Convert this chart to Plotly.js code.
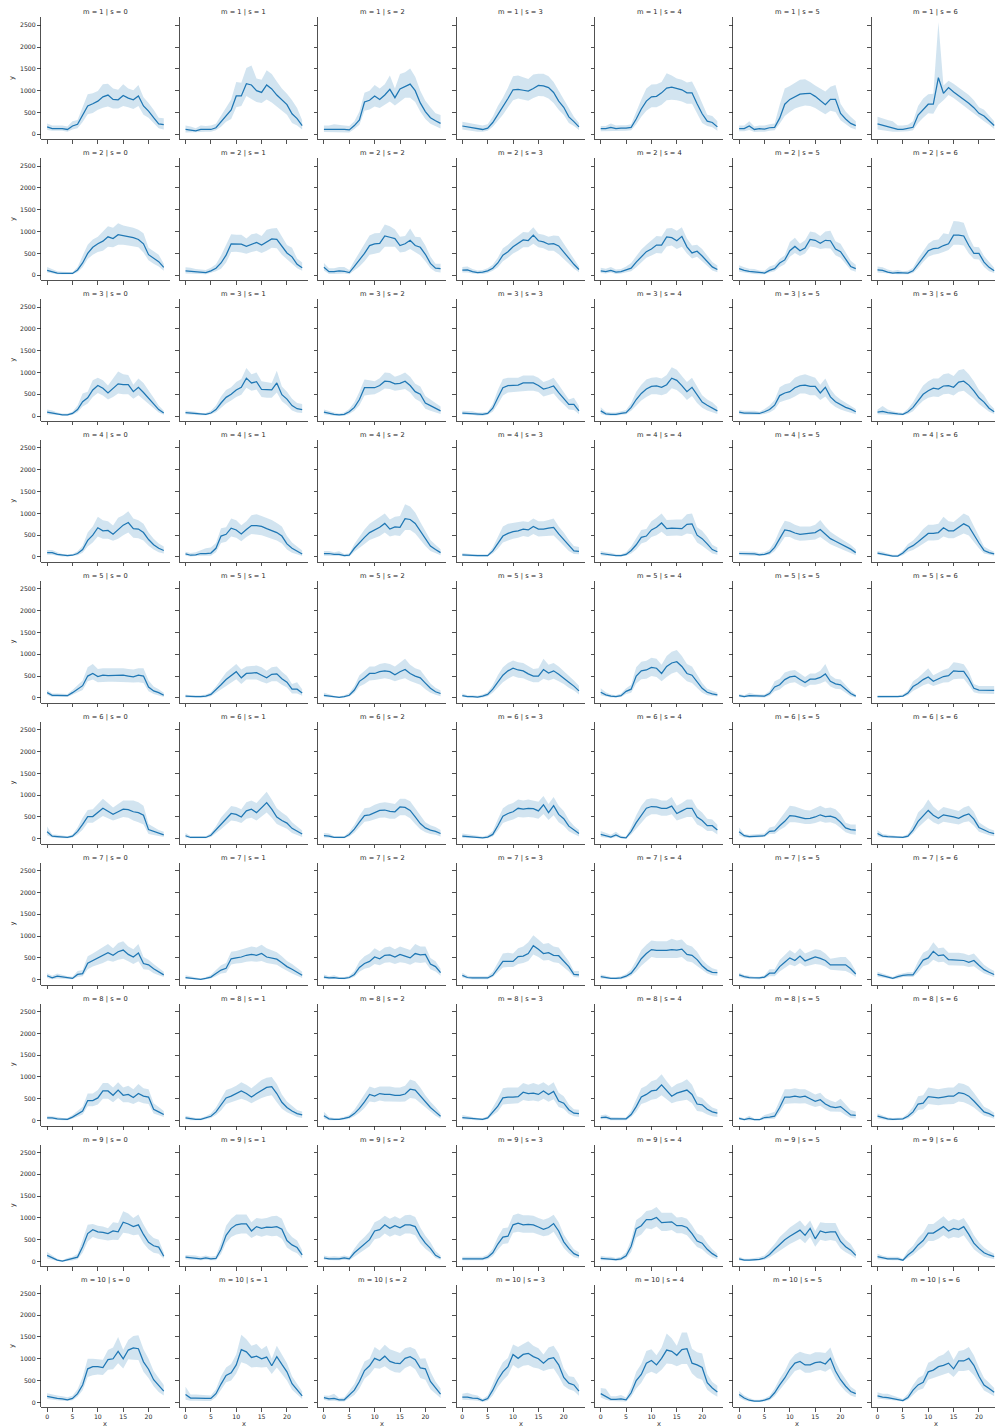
<!DOCTYPE html>
<html><head><meta charset="utf-8">
<script src="https://cdn.plot.ly/plotly-3.0.1.min.js"></script>
<style>html,body{margin:0;padding:0;background:#fff;overflow:hidden}</style>
</head><body><div id="chart" style="width:995px;height:1427px"></div>
<script>
const hours = [0,1,2,3,4,5,6,7,8,9,10,11,12,13,14,15,16,17,18,19,20,21,22,23];
const mValues = [1,2,3,4,5,6,7,8,9,10];
const sValues = [0,1,2,3,4,5,6];
const xTicks = [0,5,10,15,20];
const yTicks = [0,500,1000,1500,2000,2500];

// m = 1
const mean_m1 = [
 [170,130,130,130,110,190,230,440,650,700,760,860,900,800,790,890,830,790,880,650,530,380,240,220],
 [110,90,80,110,110,110,150,280,430,560,880,880,1160,1130,1000,960,1130,1040,900,780,680,470,360,200],
 [110,110,120,110,110,100,200,330,740,780,880,800,900,1030,840,1040,1100,1150,1000,720,520,380,310,250],
 [190,170,150,130,110,140,270,450,620,820,1020,1030,1010,990,1050,1120,1110,1070,960,760,620,400,290,170],
 [130,130,160,130,140,140,160,350,580,760,860,870,950,1060,1080,1050,1020,950,950,700,470,300,270,170],
 [130,130,190,110,130,120,150,160,370,690,800,860,920,930,940,870,770,680,800,800,480,350,250,200],
 [240,210,180,150,115,115,135,160,440,560,690,690,1300,940,1070,970,890,810,710,610,480,420,310,200]];
const lo_m1 = [
 [100,80,80,80,60,110,140,280,460,490,560,610,640,590,590,650,620,580,650,450,380,250,140,110],
 [40,40,40,50,60,60,90,170,290,350,620,650,880,800,740,720,800,730,640,540,450,260,200,110],
 [50,50,50,50,50,40,120,220,540,570,640,600,680,750,660,760,840,840,740,520,350,240,180,130],
 [110,90,80,60,60,80,170,300,450,620,780,820,800,770,830,880,870,820,720,560,440,260,190,100],
 [70,70,80,70,80,80,90,230,400,540,620,620,680,780,790,780,750,700,700,480,260,190,160,80],
 [70,70,100,50,60,60,80,90,240,420,510,590,630,660,650,600,530,460,540,510,320,230,150,110],
 [110,90,70,60,60,60,70,90,260,380,480,470,680,780,900,830,740,660,560,460,370,300,220,120]];
const hi_m1 = [
 [250,200,200,200,180,300,330,650,920,940,990,1150,1160,1050,1020,1150,1050,1010,1130,850,720,560,380,370],
 [200,180,140,200,190,200,240,420,620,800,1200,1180,1520,1580,1280,1250,1470,1380,1210,1050,930,780,600,320],
 [200,200,230,210,200,190,300,520,950,1000,1130,1050,1150,1350,1050,1380,1420,1510,1320,1000,770,620,480,440],
 [290,270,250,220,200,230,400,650,840,1070,1330,1350,1310,1270,1370,1390,1390,1330,1200,1000,800,580,400,260],
 [190,190,250,200,210,210,230,520,800,1050,1140,1150,1200,1400,1350,1280,1250,1190,1210,980,720,450,420,300],
 [200,200,300,180,200,200,230,250,680,1050,1110,1180,1250,1260,1200,1120,1050,980,1090,1130,700,520,400,300],
 [400,360,330,300,200,200,220,300,650,820,920,930,2570,1120,1230,1160,1080,1000,900,780,620,560,420,300]];

// m = 2
const mean_m2 = [
 [110,80,50,40,40,40,120,280,500,640,720,780,880,840,930,910,880,860,820,720,470,380,310,180],
 [100,90,80,70,60,100,160,280,460,720,720,710,660,700,750,690,760,830,820,660,510,420,250,170],
 [180,80,80,100,90,60,200,340,500,680,720,730,900,870,840,680,720,800,680,640,480,270,160,150],
 [115,120,80,60,70,100,160,280,460,540,650,720,810,795,920,790,765,710,725,670,520,390,250,130],
 [100,80,110,70,80,120,160,300,430,540,600,690,690,880,860,790,890,650,510,550,440,320,190,130],
 [150,110,90,80,60,50,110,150,280,350,560,660,560,620,820,800,730,800,790,600,540,360,200,150],
 [120,110,70,50,60,50,50,100,250,420,560,610,620,680,720,920,920,900,680,500,500,300,180,100]];
const lo_m2 = [
 [60,40,20,20,20,20,70,180,370,470,530,560,650,640,700,700,680,660,640,520,340,260,200,100],
 [40,40,30,30,20,50,90,150,290,530,540,520,490,530,560,510,560,630,620,470,360,260,160,100],
 [110,30,30,40,40,20,110,200,320,470,490,520,650,650,650,520,540,600,530,460,320,160,80,60],
 [60,60,40,30,30,50,100,180,320,400,500,560,640,640,720,640,620,560,560,480,360,260,150,70],
 [50,40,60,30,40,60,90,180,300,400,450,510,500,660,680,600,650,500,380,420,320,210,110,70],
 [80,60,40,30,20,20,60,90,190,250,420,510,440,500,660,640,600,620,610,460,400,250,120,80],
 [60,50,30,20,20,20,20,50,160,300,420,470,490,530,580,700,700,680,500,370,360,190,90,50]];
const hi_m2 = [
 [190,140,90,80,80,70,190,430,700,820,880,1000,1120,1090,1190,1140,1120,1090,1040,960,630,550,470,260],
 [180,170,140,130,120,170,250,450,700,940,930,930,840,940,960,900,1040,1070,1080,880,690,630,380,290],
 [280,160,160,190,190,120,330,520,730,910,960,970,1160,1120,1050,880,900,1070,880,870,680,430,260,260],
 [190,200,140,110,120,160,240,400,620,700,810,900,990,980,1100,950,930,880,910,900,720,560,380,200],
 [170,150,190,130,140,200,280,440,590,700,790,900,890,1070,1080,1020,1100,840,680,700,600,460,300,220],
 [230,180,150,140,110,100,200,240,370,460,760,860,720,800,1000,980,900,1000,1020,780,720,530,330,240],
 [200,180,130,100,120,90,100,170,380,560,720,800,820,960,940,1240,1230,1200,880,650,640,440,300,170]];

// m = 3
const mean_m3 = [
 [90,70,40,30,30,60,150,330,420,600,700,640,530,630,740,720,720,560,660,540,420,280,150,70],
 [80,70,60,40,40,70,150,300,430,500,600,660,870,760,790,610,600,600,760,490,390,240,170,150],
 [90,60,40,30,40,100,200,380,650,650,650,700,800,790,740,750,800,700,560,500,300,240,180,120],
 [70,60,60,40,40,60,180,420,650,700,700,710,760,760,760,700,620,650,690,540,400,270,270,120],
 [120,50,40,40,60,80,200,380,520,620,680,690,660,720,870,820,700,560,660,480,320,250,190,120],
 [90,70,70,70,60,100,150,250,470,530,560,650,700,710,680,680,530,660,440,330,260,200,160,100],
 [90,110,80,60,50,40,100,200,360,500,580,640,620,690,700,660,780,800,710,580,420,320,180,100]];
const lo_m3 = [
 [40,30,20,10,10,30,90,220,290,440,530,470,380,440,520,500,500,400,480,380,280,170,80,30],
 [40,30,30,20,20,40,90,190,290,360,440,490,650,580,610,440,420,420,540,340,250,130,80,70],
 [40,20,10,10,10,50,120,250,470,490,500,560,630,620,580,600,620,540,400,330,170,120,80,50],
 [30,30,30,10,10,30,100,270,470,540,550,560,580,580,580,550,450,480,520,380,260,150,140,40],
 [50,20,10,10,30,40,120,240,360,440,500,500,480,520,640,600,500,370,460,300,190,130,90,50],
 [40,30,30,30,30,50,80,150,320,360,390,450,520,520,480,480,370,450,300,210,150,110,70,40],
 [40,40,30,20,20,20,50,110,240,350,420,450,440,500,510,470,560,580,490,400,280,200,100,50]];
const hi_m3 = [
 [150,130,80,60,60,100,240,520,560,820,880,820,700,850,1020,960,940,720,860,760,600,420,240,120],
 [130,120,100,70,70,120,240,450,600,660,780,850,1100,960,1000,800,780,760,1040,680,560,400,300,280],
 [150,110,80,60,80,160,320,560,840,820,800,870,1000,990,900,940,1000,900,740,680,460,380,300,220],
 [120,110,110,80,80,100,280,600,850,880,880,880,930,930,930,880,780,820,880,720,560,380,420,230],
 [200,100,80,80,110,140,300,560,720,840,880,890,860,940,1120,1060,920,780,880,680,480,380,320,210],
 [140,120,120,120,100,160,240,370,660,730,760,880,930,960,920,880,720,860,620,470,380,300,240,160],
 [150,230,150,110,90,70,170,320,520,700,800,860,860,960,980,920,1050,1080,960,800,600,480,290,170]];

// m = 4
const mean_m4 = [
 [100,100,60,40,30,40,80,170,380,500,670,600,610,520,620,730,790,650,640,560,400,280,200,150],
 [70,40,50,80,80,90,200,480,520,660,620,530,630,720,720,700,650,600,560,480,300,200,140,70],
 [80,80,60,60,30,40,200,330,450,560,620,680,770,640,690,680,880,860,770,590,400,250,170,100],
 [50,40,30,30,30,30,140,300,480,540,580,600,640,620,700,640,640,660,680,530,400,250,140,130],
 [80,60,50,30,30,60,150,280,450,480,620,680,780,650,660,660,650,750,760,500,420,300,170,120],
 [80,80,80,70,50,60,100,220,420,620,600,550,520,530,540,560,630,520,420,360,300,250,180,100],
 [90,70,40,20,20,90,200,260,350,450,540,540,560,670,600,600,680,760,700,500,320,150,100,70]];
const lo_m4 = [
 [50,50,30,10,10,20,40,100,240,330,470,420,420,370,420,500,560,440,430,380,260,170,110,80],
 [30,10,20,30,30,30,110,320,350,470,440,360,460,530,520,500,460,420,380,310,170,100,60,20],
 [30,30,20,20,10,10,120,200,300,390,440,480,560,470,500,480,620,620,540,400,250,140,90,40],
 [20,10,10,10,10,10,80,190,330,380,420,440,480,460,530,470,480,480,490,380,270,140,70,60],
 [40,20,20,10,10,30,80,170,310,350,460,500,580,480,490,490,480,540,520,330,260,170,80,50],
 [40,40,40,30,20,30,50,130,280,460,460,400,370,380,390,400,460,370,290,240,190,150,100,40],
 [50,30,10,5,5,40,120,160,230,300,380,380,390,470,430,430,480,540,490,340,200,80,50,30]];
const hi_m4 = [
 [160,160,110,70,60,70,130,260,560,700,920,840,820,720,900,960,1050,880,840,760,560,420,310,240],
 [120,90,110,160,200,220,320,660,680,880,840,730,820,960,980,940,900,850,780,700,480,330,240,150],
 [140,140,110,130,70,80,300,480,630,760,840,900,1000,860,920,940,1210,1160,1020,800,580,390,280,180],
 [90,70,60,60,60,60,220,450,700,760,780,800,820,800,880,820,820,850,880,700,560,390,250,230],
 [140,110,100,60,60,110,240,420,620,640,820,900,1000,850,860,860,860,980,1000,680,600,460,280,220],
 [130,130,130,120,90,110,170,350,620,830,800,740,700,700,700,740,850,700,580,500,430,360,280,180],
 [140,120,80,50,50,150,300,380,500,640,740,740,760,920,820,800,900,1000,940,700,460,240,170,120]];

// m = 5
const mean_m5 = [
 [120,60,60,50,50,120,200,280,500,560,490,520,510,510,520,520,500,480,520,500,250,160,120,60],
 [40,30,30,30,40,80,180,300,420,500,600,460,560,570,580,520,460,540,550,440,360,200,200,110],
 [60,40,20,10,30,60,180,380,460,560,560,600,620,600,530,600,650,560,500,460,340,220,140,100],
 [50,30,30,20,40,80,200,360,520,620,680,640,620,550,500,500,650,570,620,540,460,360,270,160],
 [130,70,40,30,50,150,200,500,620,640,700,680,560,720,800,830,720,560,520,360,220,130,90,70],
 [50,30,50,50,40,40,100,250,300,420,480,500,420,350,430,430,470,550,380,320,300,200,100,40],
 [30,30,20,20,30,40,110,260,330,420,480,380,440,490,510,620,610,610,440,220,180,180,180,170]];
const lo_m5 = [
 [70,20,20,20,20,70,130,180,380,420,360,370,370,370,370,370,360,350,360,340,150,90,60,20],
 [10,10,10,10,10,40,120,200,290,360,430,320,420,420,420,370,330,380,380,300,240,100,100,50],
 [20,10,5,5,10,30,110,260,320,400,410,430,450,430,380,420,450,390,340,300,200,120,70,40],
 [20,10,10,5,10,40,120,240,360,440,500,460,450,400,360,360,440,400,440,380,320,230,170,80],
 [60,30,10,10,20,90,120,330,430,440,500,480,380,480,560,600,500,380,340,220,120,60,40,30],
 [20,10,20,20,10,10,50,150,190,290,340,360,290,240,300,300,330,380,260,210,200,120,40,10],
 [10,10,5,5,10,20,60,160,220,290,330,270,310,350,360,430,440,440,290,130,100,100,100,90]];
const hi_m5 = [
 [180,100,100,100,90,180,280,400,700,780,660,680,680,680,680,680,660,650,680,680,400,260,200,120],
 [80,60,60,60,80,130,260,430,580,680,780,650,720,730,740,700,620,700,720,600,500,320,360,200],
 [120,80,50,30,60,110,270,520,620,720,720,780,800,780,720,820,900,760,680,640,480,330,230,170],
 [100,60,60,50,80,130,290,520,700,800,860,820,800,720,660,680,900,760,800,720,620,520,400,280],
 [220,130,80,60,100,220,300,700,830,850,920,900,760,960,1060,1100,960,780,720,520,340,210,160,120],
 [90,60,120,90,80,80,160,380,440,580,620,640,560,480,560,560,620,780,520,440,420,300,170,80],
 [60,60,50,50,60,80,170,380,460,570,680,520,580,640,680,820,800,770,600,320,270,270,270,270]];

// m = 6
const mean_m6 = [
 [160,60,50,40,30,60,170,330,510,510,600,700,630,560,620,680,670,620,600,540,210,170,130,90],
 [70,30,30,30,30,80,200,340,460,580,560,500,640,680,600,720,830,680,500,420,360,240,170,110],
 [70,60,30,30,30,100,220,380,530,550,600,650,660,630,620,730,720,650,500,350,250,200,170,120],
 [60,50,40,30,20,40,100,300,520,580,620,700,680,700,690,640,780,600,760,560,460,290,200,120],
 [100,70,40,90,30,20,170,370,540,700,740,730,700,700,750,580,640,700,700,500,420,300,300,200],
 [160,70,50,60,60,70,170,180,300,400,530,520,490,460,470,500,550,510,520,480,380,250,210,200],
 [120,60,50,40,30,30,60,200,400,520,650,540,470,550,530,500,470,530,570,450,260,200,150,120]];
const lo_m6 = [
 [80,30,20,10,10,30,100,210,370,370,440,520,470,420,460,500,480,420,380,330,110,90,70,40],
 [30,10,10,10,10,40,120,220,320,420,400,360,460,480,420,500,600,480,340,280,230,130,80,40],
 [30,20,10,10,10,50,140,260,390,410,440,480,490,460,460,540,540,470,340,220,150,110,90,50],
 [20,20,10,10,5,10,50,190,360,410,440,500,490,500,490,460,570,430,540,380,300,170,110,50],
 [40,20,10,40,10,5,100,230,360,500,560,560,530,530,560,420,460,500,500,330,270,180,180,100],
 [80,30,20,30,30,40,110,110,200,270,380,380,360,340,340,360,400,370,380,340,250,150,110,90],
 [60,30,20,20,10,10,30,120,260,360,470,380,330,390,370,350,330,380,400,300,160,120,80,60]];
const hi_m6 = [
 [280,100,90,70,60,100,260,480,660,680,800,920,820,720,800,880,880,880,840,760,340,260,200,160],
 [130,60,60,60,60,130,290,490,620,750,730,680,840,880,820,950,1080,900,700,600,520,380,280,190],
 [130,120,60,60,60,160,320,530,700,720,780,820,840,820,800,920,920,860,700,520,380,310,270,200],
 [120,100,80,60,50,80,180,450,700,780,820,900,880,900,880,850,980,800,960,760,640,430,300,200],
 [180,130,90,160,70,50,270,540,760,900,930,920,880,880,960,760,820,900,900,700,600,460,440,320],
 [260,110,90,100,100,120,260,290,450,600,760,740,700,660,650,700,760,700,720,680,560,370,330,330],
 [200,110,90,70,60,60,110,330,600,720,900,740,640,730,700,660,640,720,760,620,380,300,230,190]];

// m = 7
const mean_m7 = [
 [90,40,80,60,40,30,120,140,380,440,500,560,620,560,640,680,580,520,610,370,340,250,170,110],
 [50,40,30,10,30,60,140,220,260,480,500,520,560,580,560,600,520,500,470,390,300,240,170,100],
 [60,40,50,30,30,50,120,280,370,420,520,480,560,570,520,580,540,500,600,570,580,360,300,160],
 [100,50,40,40,40,40,100,260,420,420,420,530,540,600,780,700,600,620,560,550,420,300,120,110],
 [70,50,30,30,40,80,150,300,480,600,690,670,670,670,690,680,700,580,560,460,320,220,170,160],
 [110,70,50,40,40,60,150,150,300,400,500,440,540,430,480,520,490,440,340,340,340,340,250,130],
 [120,90,70,30,70,100,110,110,280,450,500,650,550,570,460,450,450,440,400,440,330,230,170,120]];
const lo_m7 = [
 [40,10,30,20,10,10,60,80,240,300,340,380,440,410,460,480,420,360,420,240,230,150,100,60],
 [20,10,10,2,10,30,80,140,160,350,370,380,410,420,410,430,380,360,340,270,200,140,90,40],
 [20,10,20,10,10,20,70,180,250,280,360,330,390,400,360,400,380,340,400,380,400,240,190,90],
 [50,20,10,10,10,10,60,160,280,290,290,360,380,430,580,520,440,450,400,380,290,190,60,50],
 [30,20,10,10,10,40,90,190,320,430,520,500,500,500,510,500,520,420,400,310,210,140,100,90],
 [60,30,20,10,10,30,80,80,190,270,350,310,380,300,330,360,340,300,230,220,210,200,140,60],
 [70,50,40,10,30,60,60,60,170,310,350,460,400,410,330,330,330,320,290,310,220,140,100,60]];
const hi_m7 = [
 [150,90,140,110,80,70,200,220,540,600,680,740,820,720,840,880,760,700,820,520,460,360,260,180],
 [100,80,60,30,60,110,220,330,380,640,660,690,720,760,740,800,720,680,630,540,430,360,260,180],
 [120,80,100,60,60,90,200,420,540,600,720,650,740,760,700,760,720,680,820,760,760,500,420,250],
 [160,90,80,80,80,80,180,400,600,620,600,720,760,860,1020,920,820,840,760,740,580,420,200,200],
 [120,90,60,60,80,130,240,440,680,800,900,880,880,880,940,900,920,800,760,640,460,340,260,230],
 [160,110,90,70,70,100,240,240,450,560,680,600,720,600,650,700,680,600,480,500,520,520,400,200],
 [180,140,110,60,120,150,170,170,420,620,680,860,720,740,620,620,620,600,560,600,460,340,260,200]];

// m = 8
const mean_m8 = [
 [60,60,40,30,30,80,150,220,460,460,520,680,680,580,700,580,600,530,620,560,540,260,200,140],
 [60,40,30,30,60,100,200,350,520,560,620,680,620,540,620,700,760,780,620,420,300,220,160,130],
 [110,40,30,30,50,80,160,280,430,600,560,620,600,600,580,580,610,720,700,570,420,300,200,100],
 [70,60,40,30,30,60,200,330,520,540,540,550,650,620,630,600,680,600,670,450,400,250,170,160],
 [70,80,40,40,40,40,140,320,540,600,680,700,820,690,560,630,660,700,600,380,360,260,200,170],
 [50,20,50,20,20,70,80,100,300,540,540,560,540,560,500,440,480,380,320,300,320,220,130,120],
 [100,70,40,30,30,40,100,200,380,400,550,540,520,540,560,560,640,620,560,450,320,200,160,100]];
const lo_m8 = [
 [30,30,20,10,10,40,90,140,330,330,370,500,500,420,520,420,420,380,440,400,380,160,120,80],
 [30,10,10,10,30,60,130,230,380,420,460,500,460,400,460,520,560,580,420,270,190,130,80,60],
 [50,10,10,10,20,40,100,180,290,440,420,460,440,440,430,430,440,520,500,400,290,190,110,40],
 [30,20,10,5,10,30,120,210,370,380,390,400,470,450,460,440,500,430,490,310,270,150,100,80],
 [30,30,10,10,10,10,80,200,380,420,480,500,580,500,400,440,460,480,400,220,200,140,100,80],
 [20,5,10,5,5,30,30,40,190,380,390,400,390,400,350,310,340,260,210,200,200,120,60,50],
 [50,30,10,10,10,20,50,120,240,260,380,370,350,370,380,380,440,420,370,300,200,110,80,40]];
const hi_m8 = [
 [110,100,80,60,60,130,220,320,620,620,700,860,860,760,880,760,800,720,840,740,720,400,310,220],
 [110,80,60,60,100,160,300,500,700,740,800,880,820,740,840,930,980,1000,840,600,440,330,240,210],
 [200,80,60,60,90,130,250,430,620,780,740,780,780,780,760,760,800,940,900,760,580,430,310,170],
 [130,110,80,60,60,100,300,500,740,760,760,760,860,820,860,820,880,800,880,640,560,370,260,250],
 [120,140,80,80,70,70,230,470,740,800,900,940,1060,900,760,840,880,950,820,560,520,400,300,260],
 [90,50,110,50,50,130,160,200,460,720,720,740,720,720,660,600,640,520,460,420,500,360,240,210],
 [160,120,70,60,60,70,170,320,560,580,760,740,720,740,760,760,860,840,780,640,480,320,260,180]];

// m = 9
const mean_m9 = [
 [140,80,30,10,40,60,100,340,640,730,680,670,640,700,680,900,860,800,840,620,440,360,330,120],
 [100,90,80,60,80,60,70,280,600,760,840,860,860,700,800,760,790,780,800,740,480,380,320,150],
 [80,60,60,60,80,60,200,300,400,500,700,730,840,760,820,770,840,840,800,580,420,300,140,80],
 [60,60,60,50,60,100,200,400,560,580,840,880,840,850,840,790,740,780,870,700,450,300,180,130],
 [70,60,60,40,60,130,350,750,820,960,960,1010,890,900,910,820,820,780,640,470,420,280,180,110],
 [60,30,30,40,50,80,160,280,400,500,580,660,720,600,760,520,700,660,680,680,460,340,260,140],
 [110,80,60,60,60,30,150,240,380,480,650,650,720,800,700,760,730,800,620,420,300,200,150,110]];
const lo_m9 = [
 [70,40,10,2,10,20,50,200,460,560,520,500,480,500,490,660,640,600,620,420,280,200,180,60],
 [50,50,40,30,40,30,30,170,430,560,620,640,640,540,600,570,600,580,590,520,320,240,190,70],
 [40,30,30,30,40,30,120,190,270,350,510,540,640,570,620,580,640,640,600,420,290,200,80,40],
 [30,30,30,20,30,50,120,270,400,420,660,680,660,660,660,620,580,600,680,500,310,190,100,70],
 [30,30,30,10,30,70,220,550,620,760,740,800,700,700,720,650,650,600,470,330,280,170,90,50],
 [20,10,10,10,20,40,90,170,260,340,400,460,520,420,560,340,500,470,490,470,300,210,150,70],
 [50,40,30,30,30,10,80,150,250,340,470,470,520,600,520,560,540,600,440,280,190,110,80,50]];
const hi_m9 = [
 [220,140,60,30,80,110,180,500,840,860,820,800,760,900,880,1150,1100,1000,1080,850,650,540,500,200],
 [150,140,140,110,140,110,130,430,820,980,1080,1080,1080,900,1000,980,1000,1040,1050,980,700,560,480,260],
 [140,110,120,110,140,110,300,450,560,690,900,960,1050,980,1040,980,1060,1070,1020,780,590,440,240,140],
 [110,110,110,100,110,160,300,560,760,780,1060,1100,1060,1060,1050,1000,960,1000,1070,900,620,440,280,210],
 [130,110,110,80,110,210,500,950,1030,1160,1180,1250,1120,1120,1120,1010,1020,980,830,640,590,420,280,180],
 [110,60,60,80,100,140,260,400,560,680,780,860,940,800,940,700,900,880,880,880,640,500,400,220],
 [180,130,110,110,110,60,250,360,540,660,860,860,940,1040,920,980,940,1000,820,600,440,320,240,180]];

// m = 10
const mean_m10 = [
 [140,110,90,80,60,90,200,400,770,820,820,800,980,1000,1170,1000,1200,1250,1230,930,760,520,380,260],
 [180,100,100,90,90,90,200,420,620,680,860,1210,1160,1030,1060,1000,1040,840,1050,870,700,430,300,150],
 [110,80,90,60,60,180,280,480,730,840,1010,960,1060,940,900,890,1010,1050,980,790,770,480,330,190],
 [120,120,100,90,40,90,280,520,700,820,1100,1010,1100,1125,1050,1000,900,1000,1025,860,570,440,400,260],
 [200,130,70,70,80,60,220,500,640,900,960,860,1010,1200,1170,1080,1210,1230,900,860,800,450,330,240],
 [180,100,50,30,30,50,90,220,400,560,760,900,940,860,860,910,930,880,1010,720,520,370,250,200],
 [150,120,110,90,70,40,110,280,400,460,700,740,820,850,900,770,950,950,1010,850,600,400,320,230]];
const lo_m10 = [
 [80,60,50,40,30,50,130,280,580,620,640,630,750,760,900,780,990,980,970,700,560,370,240,160],
 [60,40,40,30,30,30,120,290,460,500,660,920,880,800,810,800,810,650,800,650,500,290,180,80],
 [60,30,40,20,20,100,170,320,540,640,790,770,830,740,690,680,790,840,760,560,520,300,200,100],
 [60,60,50,40,10,40,160,350,500,620,860,780,840,860,800,780,720,760,780,600,380,300,260,150],
 [110,60,30,30,30,20,130,320,450,650,700,650,750,890,880,830,880,880,660,560,520,290,200,130],
 [110,50,20,10,10,20,50,140,290,430,580,720,760,680,680,720,740,700,780,540,380,250,160,120],
 [90,70,60,50,40,20,60,180,280,320,520,560,600,640,680,580,720,720,740,620,430,270,210,140]];
const hi_m10 = [
 [210,180,160,140,120,150,300,580,1000,1000,990,980,1200,1260,1500,1210,1430,1520,1540,1220,1000,720,560,400],
 [360,180,180,170,160,160,300,600,800,880,1100,1550,1450,1300,1340,1220,1300,1000,1300,1100,900,600,430,250],
 [160,150,200,100,110,280,420,680,940,1000,1270,1190,1320,1220,1170,1130,1240,1270,1220,1000,1010,700,480,320],
 [200,220,180,160,80,160,420,700,920,1020,1330,1270,1340,1400,1300,1240,1100,1260,1300,1120,780,600,580,400],
 [330,310,140,140,170,110,350,700,880,1180,1220,1080,1260,1580,1470,1300,1600,1600,1230,1150,1120,650,470,380],
 [260,160,100,60,60,90,150,320,540,720,960,1100,1160,1120,1100,1150,1150,1130,1260,940,700,520,360,280],
 [230,200,200,160,130,80,200,400,560,620,910,960,1050,1100,1200,980,1180,1200,1270,1080,800,560,450,330]];

const MEAN = [mean_m1,mean_m2,mean_m3,mean_m4,mean_m5,mean_m6,mean_m7,mean_m8,mean_m9,mean_m10];
const LO = [lo_m1,lo_m2,lo_m3,lo_m4,lo_m5,lo_m6,lo_m7,lo_m8,lo_m9,lo_m10];
const HI = [hi_m1,hi_m2,hi_m3,hi_m4,hi_m5,hi_m6,hi_m7,hi_m8,hi_m9,hi_m10];

// ---- layout geometry (pixels) ----
const W = 995, H = 1427;
const colLeft0 = 41.3, colStep = 138.4, panelW = 128.3;
const rowTop0 = 17.3, rowStep = 140.9, panelH = 122;
const xMin = -1.15, xSpan = 25.3;
const pxPerX = panelW / xSpan;
const yRange = [-115, 2683];
const FONT = 'DejaVu Sans, sans-serif';
const TXT = '#262626';
const LINE = '#1f77b4';
const BAND = 'rgba(31,119,180,0.2)';

const traces = [];
const layout = {
  width: W, height: H,
  margin: {l: 0, r: 0, t: 0, b: 0, pad: 0},
  paper_bgcolor: '#ffffff', plot_bgcolor: '#ffffff',
  showlegend: false,
  font: {family: FONT, size: 6, color: TXT},
  annotations: []
};

mValues.forEach((m, r) => {
  sValues.forEach((s, c) => {
    const k = r * sValues.length + c + 1;
    const xa = 'x' + (k === 1 ? '' : k);
    const ya = 'y' + (k === 1 ? '' : k);
    const left = colLeft0 + colStep * c;
    const rightFull = left + panelW;
    const right = Math.min(rightFull, W);
    const top = rowTop0 + rowStep * r;
    const bottom = top + panelH;

    layout['xaxis' + k] = {
      domain: [left / W, right / W],
      range: [xMin, xMin + (right - left) / pxPerX],
      anchor: ya,
      tickmode: 'array', tickvals: xTicks, ticktext: xTicks.map(String),
      showticklabels: r === mValues.length - 1,
      ticks: 'outside', ticklen: 3.5, tickwidth: 0.8, tickcolor: TXT,
      tickfont: {family: FONT, size: 6.2, color: TXT},
      showline: true, linecolor: TXT, linewidth: 0.8,
      showgrid: false, zeroline: false, fixedrange: true
    };
    layout['yaxis' + k] = {
      domain: [1 - bottom / H, 1 - top / H],
      range: yRange,
      anchor: xa,
      tickmode: 'array', tickvals: yTicks, ticktext: yTicks.map(String),
      showticklabels: c === 0,
      ticks: 'outside', ticklen: 3.5, tickwidth: 0.8, tickcolor: TXT,
      tickfont: {family: FONT, size: 6.2, color: TXT},
      showline: true, linecolor: TXT, linewidth: 0.8,
      showgrid: false, zeroline: false, fixedrange: true
    };

    traces.push({
      type: 'scatter', mode: 'lines', x: hours, y: LO[r][c],
      xaxis: xa, yaxis: ya, line: {width: 0, color: BAND},
      hoverinfo: 'skip', showlegend: false
    });
    traces.push({
      type: 'scatter', mode: 'lines', x: hours, y: HI[r][c],
      xaxis: xa, yaxis: ya, line: {width: 0, color: BAND},
      fill: 'tonexty', fillcolor: BAND,
      hoverinfo: 'skip', showlegend: false
    });
    traces.push({
      type: 'scatter', mode: 'lines', x: hours, y: MEAN[r][c],
      xaxis: xa, yaxis: ya, line: {width: 1.25, color: LINE},
      showlegend: false
    });

    layout.annotations.push({
      xref: 'paper', yref: 'paper',
      x: ((left + rightFull) / 2) / W, y: 1 - (top - 5) / H,
      xanchor: 'center', yanchor: 'middle',
      text: 'm = ' + m + ' | s = ' + s, showarrow: false,
      font: {family: FONT, size: 6.7, color: TXT}
    });
  });
  // y axis label for the row
  const top = rowTop0 + rowStep * r;
  layout.annotations.push({
    xref: 'paper', yref: 'paper',
    x: 12.7 / W, y: 1 - (top + panelH / 2) / H,
    xanchor: 'center', yanchor: 'middle', textangle: -90,
    text: 'y', showarrow: false,
    font: {family: FONT, size: 6.7, color: TXT}
  });
});

// x axis labels under bottom row
sValues.forEach((s, c) => {
  const left = colLeft0 + colStep * c;
  layout.annotations.push({
    xref: 'paper', yref: 'paper',
    x: ((left + left + panelW) / 2) / W, y: 1 - 1424 / H,
    xanchor: 'center', yanchor: 'middle',
    text: 'x', showarrow: false,
    font: {family: FONT, size: 6.7, color: TXT}
  });
});

Plotly.newPlot('chart', traces, layout, {displayModeBar: false, staticPlot: true});
</script>
</body></html>
